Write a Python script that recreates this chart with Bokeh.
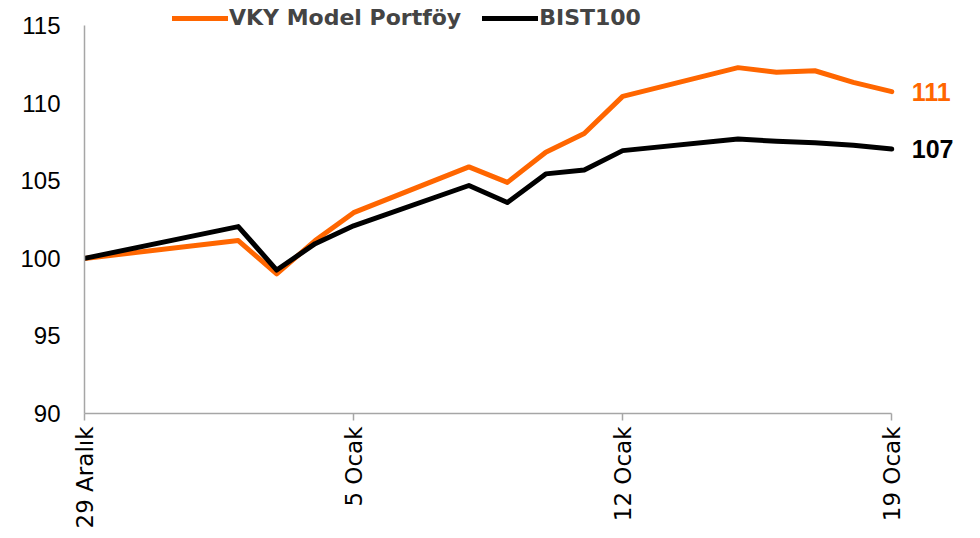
import math
import pandas as pd
from bokeh.plotting import figure
from bokeh.models import Range1d, FixedTicker, Legend, LegendItem, ColumnDataSource
from bokeh.core.properties import value
from bokeh.embed import file_html
from bokeh.resources import INLINE

dates = ["2017-12-29", "2018-01-02", "2018-01-03", "2018-01-04", "2018-01-05",
         "2018-01-08", "2018-01-09", "2018-01-10", "2018-01-11", "2018-01-12",
         "2018-01-15", "2018-01-16", "2018-01-17", "2018-01-18", "2018-01-19"]
vky = [100, 101.15, 99.0, 101.15, 102.95, 105.9, 104.9, 106.85, 108.05, 110.45,
       112.3, 112.0, 112.1, 111.35, 110.75]
bist = [100, 102.05, 99.25, 100.95, 102.1, 104.7, 103.6, 105.45, 105.7, 106.95,
        107.7, 107.55, 107.45, 107.3, 107.05]
tick_dates = ["2017-12-29", "2018-01-05", "2018-01-12", "2018-01-19"]
tick_labels = ["29 Aralık", "5 Ocak", "12 Ocak", "19 Ocak"]
y_ticks = [90, 95, 100, 105, 110, 115]
series_names = ["VKY Model Portföy", "BIST100"]
colors = ["#FF6600", "#000000"]

d0 = pd.Timestamp(dates[0])
xs = [(pd.Timestamp(d) - d0).days for d in dates]
tx = [(pd.Timestamp(d) - d0).days for d in tick_dates]

# extra room right of the last date for end labels, above 115 for the legend
x_end = tx[-1] + 0.1 * (tx[-1] - tx[0])
y_top = y_ticks[-1] + 1.5

p = figure(width=980, height=538, output_backend="svg", toolbar_location=None,
           x_range=Range1d(tx[0], x_end), y_range=Range1d(y_ticks[0], y_top),
           min_border_left=84, min_border_top=2, min_border_right=8,
           min_border_bottom=125)
p.outline_line_color = None
p.xgrid.visible = False
p.ygrid.visible = False

r1 = p.line(xs, vky, line_color=colors[0], line_width=5,
            line_cap="round", line_join="round")
r2 = p.line(xs, bist, line_color=colors[1], line_width=5,
            line_cap="round", line_join="round")

axis_gray = "#A6A6A6"
p.xaxis.bounds = (tx[0], tx[-1])
p.xaxis.ticker = FixedTicker(ticks=tx)
p.xaxis.major_label_overrides = {t: l for t, l in zip(tx, tick_labels)}
p.xaxis.major_label_orientation = math.pi / 2
p.xaxis.major_label_text_font = "DejaVu Sans"
p.xaxis.major_label_text_font_size = "23px"
p.xaxis.major_label_text_color = "#000000"
p.xaxis.major_label_standoff = 6
p.xaxis.major_tick_out = 7
p.xaxis.major_tick_in = 0
p.xaxis.minor_tick_out = 0
p.xaxis.minor_tick_in = 0
p.xaxis.axis_line_color = axis_gray
p.xaxis.axis_line_width = 1.5
p.xaxis.major_tick_line_color = axis_gray
p.xaxis.major_tick_line_width = 1.5

p.yaxis.bounds = (y_ticks[0], y_ticks[-1])
p.yaxis.ticker = FixedTicker(ticks=y_ticks)
p.yaxis.major_label_text_font = "Liberation Sans"
p.yaxis.major_label_text_font_size = "24px"
p.yaxis.major_label_text_color = "#000000"
p.yaxis.major_label_standoff = 24
p.yaxis.major_tick_out = 0
p.yaxis.major_tick_in = 0
p.yaxis.minor_tick_out = 0
p.yaxis.minor_tick_in = 0
p.yaxis.axis_line_color = axis_gray
p.yaxis.axis_line_width = 1.5

legend = Legend(items=[LegendItem(label=series_names[0], renderers=[r1]),
                       LegendItem(label=series_names[1], renderers=[r2])],
                location=(88, 383), orientation="horizontal",
                label_text_font="DejaVu Sans", label_text_font_style="bold",
                label_text_font_size="22px", glyph_width=56, glyph_height=20,
                label_standoff=1, spacing=21, padding=0, margin=0,
                border_line_color=None, background_fill_alpha=0)
p.add_layout(legend, "center")

end_src = ColumnDataSource(dict(
    x=[xs[-1], xs[-1]], y=[vky[-1], bist[-1]],
    t=[f"{round(vky[-1])}", f"{round(bist[-1])}"], c=colors))
p.text(x="x", y="y", text="t", text_color="c", source=end_src, x_offset=20,
       text_font=value("Liberation Sans"), text_font_style="bold",
       text_font_size="25px", text_baseline="middle", text_align="left")

open("out.html", "w").write(file_html(p, INLINE))
